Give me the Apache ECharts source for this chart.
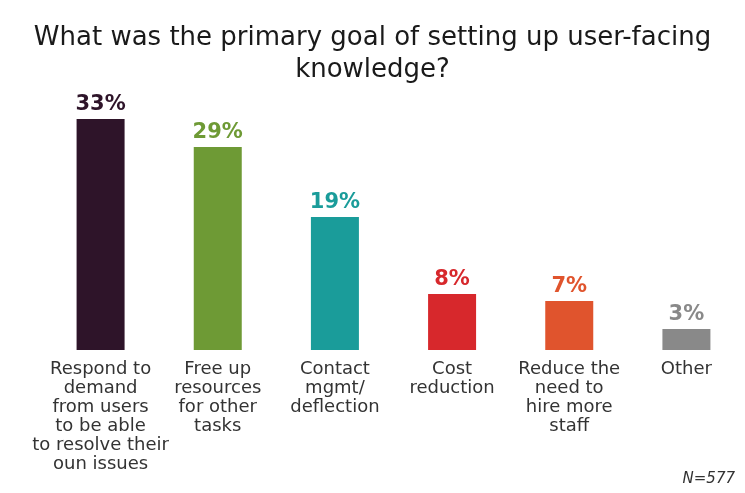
<!DOCTYPE html>
<html>
<head>
<meta charset="utf-8">
<script src="https://cdn.jsdelivr.net/npm/echarts@6/dist/echarts.min.js"></script>
<style>html,body{margin:0;padding:0;background:#fff}#c{width:745px;height:493px}</style>
</head>
<body>
<div id="c"></div>
<script>
const titleText = 'What was the primary goal of setting up user-facing\nknowledge?';
const categories = [
  'Respond to\ndemand\nfrom users\nto be able\nto resolve their\noun issues',
  'Free up\nresources\nfor other\ntasks',
  'Contact\nmgmt/\ndeflection',
  'Cost\nreduction',
  'Reduce the\nneed to\nhire more\nstaff',
  'Other'
];
const values = [33, 29, 19, 8, 7, 3];
const colors = ['#2e1429', '#6e9a35', '#1a9c9a', '#d7282c', '#e0542d', '#898989'];
const note = 'N=577';

const chart = echarts.init(document.getElementById('c'));
chart.setOption({
  animation: false,
  backgroundColor: '#fff',
  grid: { left: 42, right: 0, top: 119, bottom: 143, containLabel: false },
  xAxis: {
    type: 'category',
    data: categories,
    axisLine: { show: false },
    axisTick: { show: false },
    axisLabel: {
      interval: 0,
      margin: 10,
      fontFamily: 'DejaVu Sans',
      fontSize: 18,
      lineHeight: 19,
      color: '#333'
    }
  },
  yAxis: {
    type: 'value',
    min: 0,
    max: 33,
    show: false,
    splitLine: { show: false }
  },
  series: [{
    type: 'bar',
    barWidth: 48,
    data: values.map((v, i) => ({
      value: v,
      itemStyle: { color: colors[i] },
      label: { color: colors[i] }
    })),
    label: {
      show: true,
      position: 'top',
      distance: 4,
      formatter: '{c}%',
      fontFamily: 'DejaVu Sans',
      fontWeight: 'bold',
      fontSize: 21
    }
  }],
  graphic: [{
    type: 'text',
    x: 372.5,
    y: 22,
    style: {
      text: titleText,
      textAlign: 'center',
      textVerticalAlign: 'top',
      fontFamily: 'DejaVu Sans',
      fontSize: 26,
      lineHeight: 32,
      fill: '#1a1a1a'
    }
  }, {
    type: 'text',
    right: 10,
    bottom: 6,
    style: {
      text: note,
      fontFamily: 'DejaVu Sans',
      fontStyle: 'italic',
      fontSize: 15,
      fill: '#333'
    }
  }]
});
</script>
</body>
</html>
